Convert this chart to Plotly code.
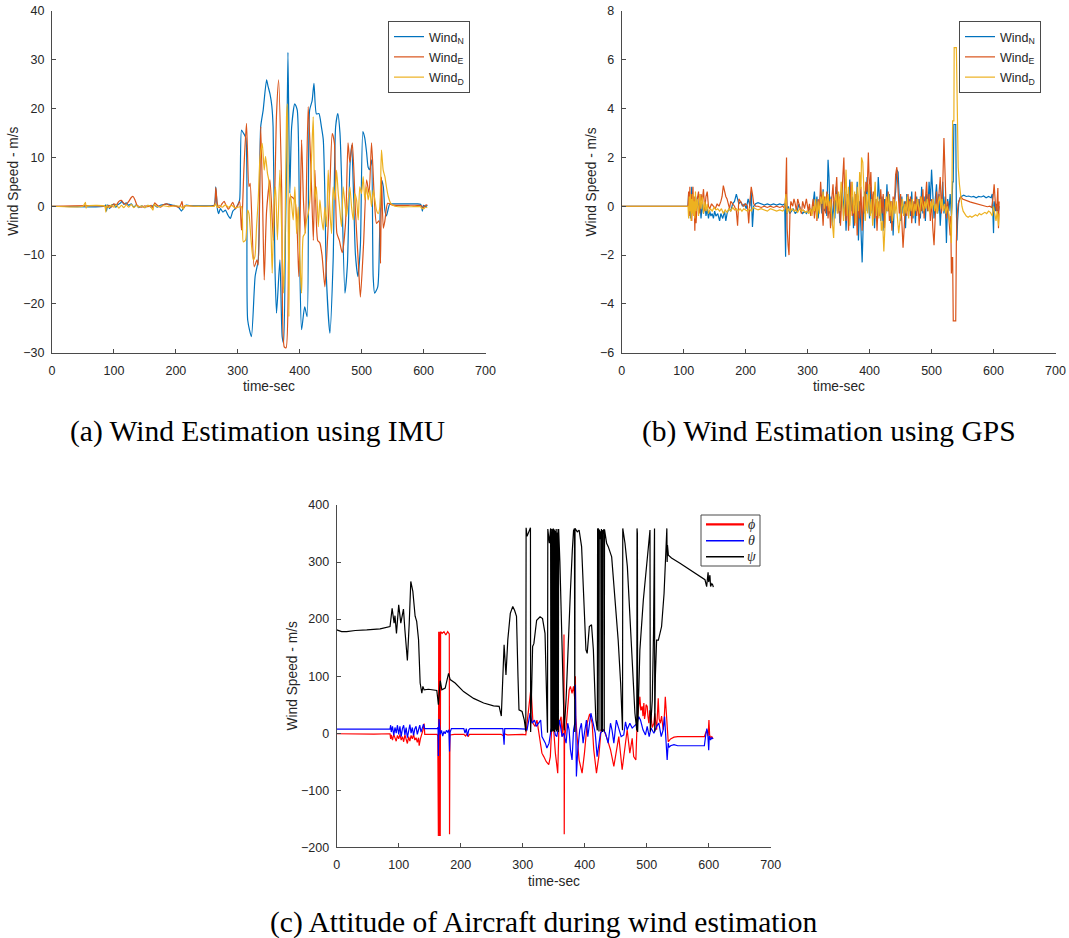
import plotly.graph_objects as go

# ---------------- (a) wind estimate from IMU : (time [s], speed [m/s]) ----------------
imu_north = [(0,0),(85,0),(87,0.3),(88,-1.0),(90,0.3),(93,-0.5),(96,0.2),(100,0.4),(103,-0.2),(106,0.3),
    (110,0.6),(113,1.0),(116,0.4),(120,0.7),(124,0.2),(128,0.5),(132,-0.2),(136,0.3),(140,-0.3),(145,0.1),
    (150,-0.3),(155,0.2),(160,-0.2),(165,0.3),(170,-0.2),(175,0.2),(180,0.3),(185,0.5),(190,0.4),(195,0.2),
    (200,0.1),(205,-0.3),(209,-1.0),(212,-0.4),(216,0.2),(225,0.1),(240,0.1),(255,0.1),(262,0.2),(264.5,4.0),
    (267,-0.5),(269,-1.5),(272,-0.5),(276,-1.2),(280,-0.8),(284,-1.8),(288,-2.5),(292,-1.0),(296,-0.5),(300,0.3),
    (303,1.3),(306,15.6),(309,15.0),(313,14.0),(316,-23.3),(322,-26.7),(328,-14.4),(333,-11),(337,16.3),(341,19.7),
    (346.5,25.9),(349,24.5),(352,23),(355,20.5),(357,16.3),(360,-12.4),(362.6,-21.9),(368,-11),(371.7,-26.7),(374,-28),
    (377,-5),(379,9.5),(381,31.5),(384,2.7),(387,16.3),(392,21),(396,19.7),(400,-11),(403,-25.3),(408,-20.6),
    (412,-22.6),(416,19.7),(420,21.6),(423,25.2),(427,18.9),(431,19),(435,16.3),(438,13.7),(440.6,2.6),(443,-14.4),
    (448.7,-26),(454,-11),(458,16.3),(461.5,19),(465,15),(467.5,6),(473,-17.8),(477,-12),(481,8),(484,12.5),
    (487,2),(490,-10),(494,-14.4),(498,-8),(502,15.3),(505,14),(508,11),(510.5,8),(513,7.5),(516,9.5),
    (518.6,-14.4),(521,-17.8),(526,-16.5),(529,-6.2),(532,5.4),(535,4),(537.5,-0.8),(540,-2),(545.5,0.5),(550,0.5),
    (560,0.5),(575,0.5),(590,0.5),(595,0.4),(597,-0.2),(598,-1.0),(600,0.2),(603,-0.1),(606,0.2)]

imu_east = [(0,0),(85,0),(88,-0.3),(92,0.2),(96,-0.2),(100,0.5),(104,0.3),(108,1.0),(112,1.2),(116,0.6),
    (120,0.4),(124,1.0),(128,1.8),(131,2.0),(134,1.3),(137,0.3),(140,0.0),(145,-0.2),(150,0.1),(155,-0.1),
    (160,0.2),(163,-0.3),(166,0.7),(170,0.2),(175,-0.2),(180,0.3),(185,0.5),(190,0.2),(195,0.1),(200,0.0),
    (205,-0.2),(208,0.3),(210,1.0),(212,-0.5),(215,0.1),(230,0.0),(250,0.0),(262,0.1),(264.5,3.8),(267,0.5),
    (270,-0.3),(274,0.4),(278,1.0),(281,0.2),(285,-0.6),(289,0.2),(292,0.8),(296,-0.5),(300,0.2),(303,1.0),
    (306,-4.9),(310,8),(314,17),(318,4),(320,4.7),(326.5,-12.4),(331,-11),(333,-12),(337,16.3),(340,1.3),
    (342.7,-15.1),(346.5,-1),(352,5.4),(357.5,-7),(362.6,19),(366,25.9),(371,2.7),(375,-28.8),(378,-29),(382,-11),
    (385,2),(392,1.3),(398.6,-14.4),(403,13.6),(406,1.3),(409,-5.5),(413.7,20.4),(418,8.1),(422,-7),(424.5,7.4),
    (429,-7),(432.5,-7.5),(436,-10),(440.6,-16.5),(443,-12),(448.7,4),(452.5,14.9),(456,13),(460,-5.5),(464,-7),
    (468.6,-9.5),(474,-3.5),(478,13),(481,9),(485,13),(490,-1),(495,-12.4),(498,-18.6),(503,-8),(508,5.4),
    (512,2.6),(516,13),(520.5,1.5),(524,-3.5),(528,-3),(530.5,-11.7),(532,6),(535,-4.5),(537.5,-3),(542,0.6),
    (549,0.3),(560,0.2),(575,0.2),(590,0.2),(597,0.1),(600,-0.3),(603,0.2),(606,0.3)]

imu_down = [(0,0),(50,0),(54,0.8),(55,-0.4),(56,0),(85,0),(87,-1.2),(88,0.2),(92,-0.3),(96,0.3),
    (100,-0.2),(104,0.3),(108,-0.4),(112,0.2),(116,-0.3),(120,0.3),(124,-0.2),(128,0.4),(132,-0.3),(136,0.2),
    (140,-0.2),(145,0.1),(150,-0.3),(155,0.2),(160,-0.2),(163,-0.8),(165,0.4),(170,-0.1),(180,0.1),(190,-0.1),
    (200,0.1),(210,-0.2),(212,-0.6),(214,0.1),(230,0),(250,0),(262,0),(264,0.5),(267,-0.3),(270,0.2),
    (275,-0.2),(280,0.3),(285,-0.2),(290,0.2),(295,-0.3),(300,-0.2),(306,-0.1),(308.8,-7.3),(312.6,-6.9),(315.8,-0.8),
    (318,-1.5),(321,-6.2),(325,-11),(327.6,-10.3),(330.3,-4.2),(333,1.3),(335.7,9.5),(339.5,12.9),(342.7,7.4),(344.8,10.2),
    (348,6.7),(350,5.4),(353.4,-4.2),(355.6,-13.7),(358.8,1.3),(361,4),(364,-6.9),(368,7.4),(370.7,-4.2),(374,-17.8),
    (376,-8.3),(378.7,18.3),(380,21),(382.5,-22.6),(384.6,2.6),(386.8,0.6),(389.5,-2.8),(392.2,4),(395,-5.6),(397.6,-0.1),
    (400.3,-11),(403,-17.8),(405.6,-6.2),(408.3,-5.6),(411,-2.8),(413.7,-1.5),(416.4,1.3),(419,9.5),(421.8,18.3),(424.5,1.3),
    (427,4),(430,-4.2),(432.6,1.3),(435,-2.1),(438,-4.9),(440.6,-0.1),(443.3,-4.2),(446,7.4),(448.7,-0.8),(451.4,-5.6),
    (454,4),(456.8,1.3),(459.5,7.4),(462.2,2.6),(464.8,-0.8),(467.5,-4.2),(470.2,4),(473,0.6),(475.6,-2.1),(478.3,1.3),
    (481,4),(483.7,-0.1),(486.4,-2.8),(489,2.6),(491.8,1.3),(494.5,-2.8),(497,4),(499.8,2.6),(502.5,6.1),(505.2,1.3),
    (508,4),(510.6,1.3),(513.3,3.3),(516,-0.1),(518.7,3.3),(521.4,1.3),(524,-0.8),(526.7,-1.5),(529.4,-0.1),(532,11.5),
    (534.8,7.4),(537.5,6.1),(540,4),(543,2),(547,0.6),(553.6,0),(560,-0.1),(580,-0.1),(595,-0.1),(597,-0.4),
    (600,-0.5),(603,-0.2),(606,-0.3)]

# ---------------- (b) wind estimate from GPS : (time [s], speed [m/s]) ----------------
gps_north = [(0,0),(106,0),(107,0),(108,0.5),(109,-0.3),(110,0.4),(111,-0.5),(112,0.2),(113,0.8),(114,-0.2),
    (115,0.3),(116,-0.4),(117,0.1),(118,-0.6),(119,0.2),(120,-0.3),(122,0.4),(124,-0.2),(126,0.3),(128,-0.5),
    (130,0.1),(132,-0.3),(134,0.2),(136,-0.4),(138,-0.1),(140,-0.5),(142,-0.2),(144,-0.4),(146,-0.3),(148,-0.5),
    (150,-0.2),(152,-0.4),(155,-0.3),(158,-0.6),(160,-0.3),(163,-0.5),(166,-0.2),(168,-0.6),(170,-0.3),(173,-0.1),
    (176,-0.2),(179,0.1),(182,0.2),(185,0.5),(187,0.3),(189,0.1),(192,0.2),(195,0.0),(198,0.1),(201,-0.1),
    (204,0.3),(207,0.0),(209,0.6),(211,-0.85),(213,0.0),(216,0.1),(220,0.15),(225,0.1),(230,0.05),(235,0.1),
    (240,0.05),(245,0.1),(250,0.05),(255,0.1),(260,0.05),(263,0.1),(264.5,-2.07),(265.5,0.6),(267,-0.3),(269,0.0),
    (271,-0.3),(274,-0.2),(277,-0.1),(280,-0.3),(283,-0.2),(286,0.1),(289,-0.2),(292,-0.3),(295,-0.2),(298,-0.3),
    (301,-0.2),(304,-0.1),(307,-0.3),(309,0.1),(311,0.6),(313,-0.2),(315,0.4),(317,-0.5),(319,0.2),(321,0.5),
    (323,-0.3),(325,0.7),(327,-0.2),(329,0.3),(331,-0.4),(333,1.9),(334.5,1.2),(336,-0.3),(338,0.4),(340,-0.8),
    (342,0.2),(344,-0.5),(346,0.8),(348,-0.2),(350,0.5),(352,-0.7),(354,0.3),(356,1.0),(358,-0.4),(360,0.6),
    (362,-1.0),(364,0.2),(366,-0.4),(368,1.1),(370,-0.2),(372,0.4),(374,-0.9),(376,0.5),(378,-0.3),(380,1.0),
    (382,-1.4),(384,0.2),(386,-0.9),(388,-2.3),(390,-0.5),(392,0.6),(394,-0.2),(396,1.2),(398,0.3),(400,-0.5),
    (402,0.8),(404,-0.3),(406,0.5),(408,-0.9),(410,0.3),(412,-0.4),(414,1.2),(416,0.2),(418,-0.6),(420,0.4),
    (422,-1.0),(424,0.3),(426,-0.3),(428,0.9),(430,-0.2),(432,0.5),(434,-0.7),(436,0.2),(438,-1.2),(440,0.1),
    (442,0.6),(444,1.5),(446,1.4),(448,0.3),(450,-0.6),(452,0.4),(454,-0.3),(456,0.2),(458,-0.9),(460,0.5),
    (462,-0.2),(464,0.3),(466,-0.4),(468,0.6),(470,-0.5),(472,0.2),(474,-0.7),(476,0.4),(478,-0.2),(480,0.3),
    (482,-0.5),(484,0.8),(486,-0.3),(488,0.4),(490,-0.6),(492,0.5),(494,-0.2),(496,1.0),(498,0.2),(500,1.5),
    (502,0.6),(504,-0.5),(506,0.3),(508,0.9),(510,-0.3),(512,0.5),(514,-0.8),(516,0.2),(518,1.0),(520,-0.3),
    (522,0.4),(524,-1.5),(526,0.3),(528,-0.2),(530,0.5),(532,-0.4),(533,0.0),(534,1.0),(535,1.0),(536,3.35),
    (539,3.35),(540,0.0),(541,-1.4),(542,-0.6),(544,0.2),(546,0.35),(548,0.4),(552,0.45),(556,0.4),(560,0.42),
    (564,0.38),(568,0.4),(572,0.35),(576,0.4),(580,0.38),(584,0.42),(588,0.35),(592,0.4),(596,0.35),(598,0.5),
    (600,-1.1),(601,0.2),(603,-0.2),(605,0.1),(607,-0.4),(609,0.0)]

gps_east = [(0,0),(106,0),(107,0),(108,0.6),(109,-0.4),(110,0.8),(111,-0.2),(112,0.5),(113,-0.6),(114,0.3),
    (115,0.8),(116,-0.3),(117,0.4),(118,-1.0),(119,0.2),(120,-0.7),(122,0.3),(124,0.6),(126,-0.3),(128,0.5),
    (130,0.2),(132,0.7),(134,-0.2),(136,0.4),(138,0.6),(140,0.0),(142,-0.1),(145,0.1),(148,0.0),(151,-0.1),
    (154,0.1),(157,0.0),(160,0.2),(162,0.4),(164,0.85),(166,0.6),(168,0.4),(170,0.3),(172,0.1),(174,-0.1),
    (176,0.2),(179,0.1),(182,0.0),(185,-0.2),(187,-0.8),(189,0.3),(191,0.2),(194,0.1),(197,0.0),(200,0.1),
    (203,0.0),(205,-0.7),(207,0.2),(209,0.8),(211,0.5),(213,0.1),(216,0.0),(220,0.0),(225,-0.05),(230,0.0),
    (235,-0.05),(240,0.0),(245,-0.05),(250,0.0),(255,-0.05),(260,0.0),(263,-0.1),(264.5,0.4),(266,2.0),(267,-0.9),
    (268.5,-1.6),(270,-2.0),(271.5,-0.3),(273,0.2),(276,0.0),(278,0.3),(280,0.1),(282,-0.2),(284,0.3),(287,0.0),
    (290,-0.3),(292,0.2),(295,-0.1),(298,0.3),(301,-0.2),(303,0.1),(305,-0.4),(307,-0.1),(309,0.3),(311,-0.5),
    (313,0.2),(315,-0.6),(317,0.3),(319,-0.2),(321,1.0),(323,0.1),(325,-0.8),(327,0.4),(329,-0.3),(331,0.6),
    (333,-0.5),(335,0.2),(337,-0.9),(339,0.3),(341,0.9),(343,-0.2),(345,0.5),(347,1.2),(349,-0.3),(351,0.4),
    (353,-0.8),(355,0.6),(357,1.3),(358.5,2.0),(360,0.2),(362,-0.6),(364,0.5),(366,-1.0),(368,0.3),(370,1.0),
    (372,-0.4),(374,0.2),(376,-0.8),(378,0.5),(380,-1.2),(382,0.3),(384,-0.5),(386,0.8),(388,-1.0),(390,0.4),
    (392,-0.3),(394,1.0),(396,0.6),(398,2.2),(400,0.5),(402,1.4),(404,-0.2),(406,0.6),(408,-0.5),(410,0.3),
    (412,-1.0),(414,0.2),(416,-0.4),(418,0.7),(420,-0.3),(422,0.5),(424,-0.9),(426,0.3),(428,-0.2),(430,0.6),
    (432,-0.6),(434,0.2),(436,-1.0),(438,0.4),(440,0.0),(442,1.3),(444,1.6),(446,0.4),(448,-0.3),(450,0.5),
    (452,-0.9),(454,-1.7),(456,-0.8),(458,0.2),(460,-0.4),(462,0.5),(464,-0.2),(466,0.4),(468,-0.7),(470,0.2),
    (472,-0.3),(474,0.6),(476,-0.4),(478,0.3),(480,-0.8),(482,0.4),(484,-0.2),(486,0.7),(488,-0.5),(490,0.3),
    (492,1.0),(494,-0.2),(496,0.5),(498,-0.6),(500,0.3),(502,-0.9),(504,-1.6),(506,-0.4),(508,0.6),(510,-0.2),
    (512,0.4),(514,1.2),(516,-0.3),(518,0.8),(520,2.8),(522,0.6),(524,-0.5),(526,0.2),(528,-0.8),(530,-1.2),
    (531,-0.4),(532,-2.75),(533,-2.1),(534,-2.1),(535,-4.7),(539,-4.7),(540,-1.5),(541,-0.5),(543,0.1),(545,0.3),
    (547,0.4),(550,0.3),(554,0.25),(558,0.2),(562,0.18),(566,0.15),(570,0.12),(574,0.1),(578,0.05),(582,0.03),
    (586,0.0),(590,-0.02),(594,0.0),(597,-0.05),(599,0.3),(601,0.9),(603,0.1),(605,-0.2),(607,0.75),(608,-0.9),
    (609,0.2)]

gps_down = [(0,0),(106,0),(107,0),(108,-0.5),(109,0.4),(110,-0.2),(111,0.5),(112,-0.6),(113,0.3),(114,-0.3),
    (115,0.5),(116,-0.4),(117,0.2),(118,-0.5),(119,0.6),(120,-0.2),(122,0.3),(124,-0.4),(126,0.5),(128,-0.1),
    (130,0.4),(132,-0.3),(134,0.2),(136,-0.2),(138,0.1),(140,-0.3),(143,-0.1),(146,-0.2),(149,-0.05),(152,-0.15),
    (155,-0.1),(158,-0.2),(161,-0.1),(164,-0.3),(167,-0.15),(170,-0.25),(173,-0.1),(176,-0.2),(179,-0.05),(182,-0.15),
    (185,-0.1),(188,-0.2),(191,-0.1),(194,-0.2),(197,-0.1),(200,-0.15),(203,-0.2),(206,-0.1),(209,-0.2),(212,-0.05),
    (215,-0.1),(220,-0.15),(225,-0.1),(230,-0.15),(235,-0.2),(240,-0.1),(245,-0.15),(250,-0.2),(255,-0.15),(260,-0.2),
    (263,-0.1),(265,0.5),(267,-0.3),(269,-0.1),(272,-0.2),(275,-0.1),(278,-0.2),(281,-0.15),(284,-0.25),(287,-0.1),
    (290,-0.2),(293,-0.15),(296,-0.25),(299,-0.2),(302,-0.3),(305,-0.1),(307,-0.4),(309,0.0),(311,-0.2),(313,0.3),
    (315,-0.5),(317,0.2),(319,-0.3),(321,0.4),(323,0.1),(325,0.6),(327,-0.1),(329,0.4),(331,0.0),(333,0.5),
    (335,-0.2),(337,0.3),(339,-0.4),(341,-1.0),(342,-1.3),(344,0.2),(346,0.5),(348,-0.3),(350,0.6),(352,-0.2),
    (354,1.0),(356,0.4),(358,-0.6),(360,0.3),(362,1.5),(364,-0.4),(366,0.8),(368,-0.8),(370,0.4),(372,1.0),
    (374,-0.3),(376,0.6),(378,-0.7),(380,0.8),(382,-0.2),(384,1.4),(386,0.7),(387,2.0),(389,1.8),(391,0.2),
    (393,-0.6),(395,0.5),(397,-0.3),(399,0.9),(401,-0.4),(403,0.3),(405,-0.8),(407,0.2),(409,1.0),(411,-0.4),
    (413,0.4),(415,-0.5),(417,0.3),(419,-1.0),(421,-0.6),(423,-1.85),(425,-0.3),(427,0.4),(429,-0.2),(431,0.5),
    (433,-0.4),(435,0.2),(437,-0.6),(439,0.3),(441,-0.3),(443,0.2),(445,-0.5),(447,-1.1),(449,-0.6),(451,-0.2),
    (453,0.3),(455,-0.4),(457,0.1),(459,-0.3),(461,0.4),(463,-0.5),(465,0.2),(467,-0.2),(469,0.3),(471,-0.4),
    (473,0.1),(475,-0.2),(477,0.3),(479,0.0),(481,-0.3),(483,0.4),(485,0.1),(487,-0.2),(489,0.2),(491,-0.1),
    (493,0.3),(495,0.0),(497,-0.3),(499,0.2),(501,-0.1),(503,0.3),(505,-0.2),(507,0.1),(509,-0.3),(511,0.2),
    (513,0.4),(515,-0.1),(517,0.3),(519,-0.2),(521,0.1),(523,-0.3),(525,0.0),(527,-0.2),(529,-0.5),(531,-0.9),
    (532,-1.5),(533,0.3),(534,3.5),(536,3.5),(536.5,6.5),(540,6.5),(541,4.0),(542,2.5),(543,1.6),(545,0.9),
    (547,0.4),(549,0.0),(551,-0.2),(553,-0.3),(556,-0.4),(559,-0.45),(562,-0.4),(565,-0.45),(568,-0.4),(571,-0.35),
    (574,-0.4),(577,-0.3),(580,-0.35),(583,-0.3),(586,-0.25),(589,-0.3),(592,-0.2),(595,-0.25),(598,-0.4),(600,0.0),
    (602,-0.3),(604,-0.6),(606,-0.2),(608,-0.8),(609,-0.3)]

# ---------------- (c) attitude angles : (time [s], angle [deg]) ----------------
att_phi = [(0,-1),(20,-1.5),(40,-1),(60,-1.5),(86,-1),(87,-10),(88,-3),(90,-12),(92,-2),(94,-8),
    (96,-14),(98,-4),(100,-10),(102,-2),(104,-12),(106,-6),(108,-15),(110,-3),(112,-10),(114,-18),
    (116,-6),(118,-14),(120,-4),(122,-10),(124,-2),(126,-12),(128,-8),(130,-16),(132,-8),(133,-22),
    (135,-10),(137,-4),(139,5),(141,17),(142,-2),(150,-2),(162,-2),(163,-5),(164,-180),(164.5,178),
    (165,-180),(165.5,178),(166,-180),(166.5,178),(167,-180),(167.6,178),(170,175),(173,178),(176,172),(179,178),
    (181.6,174),(182,-177),(182.6,-3),(190,-2),(205,-2),(208,-5),(210,-1),(212,-6),(214,-2),(230,-2),
    (250,-2),(265,-2),(268,-4),(270,-1),(275,-3),(290,-2),(300,-2),(305,-3),(307,17.5),(310,40),
    (313.4,80),(316.6,17.5),(320,12),(323,23),(328.5,-12),(331,-35),(334,-41),(338,-50),(342,-55),(344.6,-41),
    (347,17.5),(350,6),(352.7,-35),(356.5,-70),(358.6,17.5),(362,29),(363.5,-6),(366,30),(366.6,173),(367,-177),
    (367.5,-10),(370.5,17.5),(372.6,52),(375,76),(377,82),(379.6,70),(382,82),(384,60),(385,100),(385.5,29),
    (387.7,-6),(391,-47),(395.8,-70),(399.6,-35),(404,17.5),(408,34),(412,17.5),(414.6,-29),(419,-70),(422.7,-41),
    (426.5,6),(430.8,6),(436,-9),(441.6,-29),(447,-58),(451,-35),(455,-6),(460.4,-64),(464,-29),(468.5,6),
    (472.8,-35),(476.6,-9),(479,-41),(482.5,-47),(484.7,23),(487,45),(489,64),(490.5,40),(492.7,47),(494,30),
    (495.4,53),(496.5,25),(498,35),(499,50),(500.8,47),(502,30),(503.5,17.5),(505,40),(507,29),(509,10),
    (511.6,17.5),(513,35),(516,6),(518.6,61),(520,25),(522,17.5),(524,30),(526.6,6),(528,20),(530,64),
    (531.5,40),(533,17.5),(534.7,-15),(538.5,-10),(544,-7),(550,-6),(560,-6),(575,-6),(593,-6),(595,0),
    (597,5),(599,-5),(600.4,23),(601.5,-3),(603,-8),(605,-6),(607,-10)]

att_theta = [(0,7),(40,7),(86,7),(87,14),(88,2),(90,12),(92,-4),(94,10),(96,0),(98,14),
    (100,-2),(102,12),(104,-6),(106,8),(108,14),(110,-3),(112,10),(114,-8),(116,5),(118,15),
    (120,0),(122,10),(124,-4),(126,8),(128,12),(130,-2),(132,6),(134,14),(136,2),(138,12),
    (140,16),(142,8),(150,8),(162,8),(163.5,10),(164,-40),(165,25),(166,0),(167,-2),(169,5),
    (171,-5),(173,3),(175,-1),(177,5),(179,2),(181,6),(182,-32),(183,2),(185,8),(190,8),
    (205,8),(207,0),(209,8),(211,-5),(213,6),(215,8),(230,8),(250,8),(268,8),(270,-20),
    (271,8),(290,8),(300,8),(305,7),(307,6),(312,35),(315,17.5),(319,23),(322,12),(325.8,17.5),
    (329,23),(331,-6),(336.6,-17.5),(339,-26),(342.5,-17.5),(345.7,6),(349,17.5),(352.7,-3),(355,-6),(359.5,23),
    (363.5,-6),(366,0),(370,-17.5),(372.6,17.5),(374.8,6),(377,-29),(379.6,-47),(382,6),(384.5,20),(385,85),
    (385.5,20),(386.6,-76),(388.8,-29),(392,6),(394.7,17.5),(397.4,-17.5),(399.6,0),(402.8,23),(405,-6),(408,17.5),
    (410,35),(413.6,17.5),(417,0),(420,-41),(422.7,-23),(425.4,0),(429.7,6),(433.5,0),(437.8,-17.5),(441.6,17.5),
    (444,6),(447,-17.5),(451,23),(455,6),(458.8,-6),(463,-3),(465.8,20),(468.5,6),(472.8,17.5),(476.6,9),
    (480,12),(484.7,17.5),(487,29),(490,23),(494,6),(498,-3),(500.8,12),(504,-6),(507,9),(511.6,0),
    (516,12),(519.6,17.5),(523.4,-6),(526.6,6),(528.8,29),(531,-6),(533,-47),(534.7,-17.5),(536,-25),(538.5,-22),
    (544,-20),(550,-22),(560,-22),(575,-22),(593,-22),(595,-5),(597,8),(598.5,0),(600,-30),(601,-5),
    (603,-12),(605,-8),(607,-10)]

att_psi = [(0,181),(8,178),(16,178),(30,180),(48.5,181),(70,183),(86,187),(89.4,219),(92.6,193),(94,206),
    (96.4,175),(98,202),(100,225),(103.4,193),(107.7,217.5),(110,181),(114,127.5),(117,193),(119.5,266),(122.8,248.5),
    (125,219),(126.5,205),(129,196),(132,164),(134.6,88),(137.3,70),(139,82),(141,76),(148,77),(156,76),
    (161.5,75),(164,50),(167,92),(169.6,76),(175,79),(180.4,105),(183,94),(191,88),(204.6,73),(220.8,61),
    (237,53),(253,48),(262,47),(265.5,30),(267.6,76),(270,155),(273,102),(276,164),(280,210),(284,222),
    (287,215),(290,205),(292.4,99),(294,41),(299,38),(302.6,23),(305,3),(305.5,360),(307,345),(309,350),
    (311.5,358),(312.5,360),(312.8,2),(316,152),(318,157),(322.5,198),(328,204),(332,201),(336,175),(339.7,5),
    (340,1),(340.5,358),(343,333),(345,359),(345.5,2),(346.5,5),(347,358),(348,356),(348.5,3),(349.5,359),
    (350,4),(351,357),(351.5,2),(352.5,355),(353,6),(354,358),(354.5,3),(355.5,352),(356,5),(357,358),
    (357.5,2),(358,358),(360,300),(362,200),(364,120),(367,5),(370,60),(373,150),(377,250),(380,320),
    (382,355),(383.5,359),(384,2),(384.4,359),(388,353),(391,356),(395,327),(399,234),(402,146),(404,140),
    (407.5,187),(411,190),(414,146),(418,23),(420.4,5),(420.8,358),(422,359),(423,3),(423.5,357),(425,340),
    (426,355),(426.5,4),(427,358),(428.5,2),(429,356),(430,350),(431,358),(431.5,3),(432,357),(435.4,333),
    (438,327),(443.5,309),(449,234),(454,163),(458,87),(461,5),(461.4,359),(465,333),(468.8,292),(473,204),
    (477.4,117),(481,35),(484,5),(484.4,359),(485,350),(485.4,2),(489,146),(494.6,234),(500,292),(505.3,356),
    (505.8,3),(509,58),(511,175),(512.6,359),(513,3),(514,100),(516,163),(518.8,163),(521.4,175),(524,187),
    (528,245),(531,321),(532.5,359),(533,300),(533.5,330),(534,305),(534.5,318),(535,312),(540,307),(553.7,298),
    (570,286),(586,274),(594,269),(596.7,257),(598,270),(599,282),(600,265),(602,277),(603,257),(605,262),
    (606.4,260),(607.5,256)]

# ---------------- axes, labels and captions ----------------
time_ticks = [0, 100, 200, 300, 400, 500, 600, 700]
imu_ticks = [-30, -20, -10, 0, 10, 20, 30, 40]
gps_ticks = [-6, -4, -2, 0, 2, 4, 6, 8]
att_ticks = [-200, -100, 0, 100, 200, 300, 400]

wind_names = ["Wind<sub>N</sub>", "Wind<sub>E</sub>", "Wind<sub>D</sub>"]
att_names = ["<i>ϕ</i>", "<i>θ</i>", "<i>ψ</i>"]
x_title = "time-sec"
y_title = "Wind Speed - m/s"
captions = ["(a) Wind Estimation using IMU", "(b) Wind Estimation using GPS",
            "(c) Attitude of Aircraft during wind estimation"]

WIND_COLORS = ["#0072BD", "#D95319", "#EDB120"]
ATT_COLORS = ["#FF0000", "#0000FF", "#000000"]
AX = "#4a4a4a"
TXT = "#262626"
SANS = "Liberation Sans, Arial, sans-serif"
SERIF = "Liberation Serif, Times New Roman, serif"

W, H = 1069, 938


def px_x(p):
    return p / W


def px_y(p):
    return 1 - p / H


def unzip(pairs):
    return [p[0] for p in pairs], [p[1] for p in pairs]


fig = go.Figure()

# (x axis, y axis, legend id, series, names, colours, line shape, in built-in legend)
panels = [
    ("x", "y", "legend", [imu_north, imu_east, imu_down], wind_names, WIND_COLORS, "spline", True),
    ("x2", "y2", "legend2", [gps_north, gps_east, gps_down], wind_names, WIND_COLORS, "linear", True),
    ("x3", "y3", "legend", [att_phi, att_theta, att_psi], att_names, ATT_COLORS, "linear", False),
]
for xa, ya, lg, series, names, colors, shape, show in panels:
    for i, (s, name, col) in enumerate(zip(series, names, colors)):
        tx, vy = unzip(s)
        line = dict(color=col, width=1.2, shape=shape)
        if shape == "spline":
            line["smoothing"] = 0.6
        fig.add_trace(go.Scatter(x=tx, y=vy, mode="lines", name=name, xaxis=xa, yaxis=ya,
                                 legend=lg, legendgroup=f"{xa}-{i}", showlegend=show, line=line))


def axis_style(domain, rng, ticks, anchor, standoff):
    return dict(domain=domain, range=rng, tickvals=ticks, ticks="inside", ticklen=4,
                tickwidth=1, tickcolor=AX, showline=True, linecolor=AX, linewidth=1,
                showgrid=False, zeroline=False, anchor=anchor, ticklabelstandoff=standoff,
                automargin=False, tickfont=dict(family=SANS, size=12.5, color=TXT))


# plot-area boxes in pixels: (left, right, top, bottom)
box_a = (52, 485.5, 11, 352.7)
box_b = (621.7, 1055.5, 11, 352.7)
box_c = (336.7, 770.7, 505, 847.3)


def dom(box):
    l, r, t, b = box
    return [px_x(l), px_x(r)], [px_y(b), px_y(t)]


xa_d, ya_d = dom(box_a)
xb_d, yb_d = dom(box_b)
xc_d, yc_d = dom(box_c)

fig.update_layout(
    xaxis=axis_style(xa_d, [0, 700], time_ticks, "y", 6),
    yaxis=axis_style(ya_d, [-30, 40], imu_ticks, "x", 4),
    xaxis2=axis_style(xb_d, [0, 700], time_ticks, "y2", 6),
    yaxis2=axis_style(yb_d, [-6, 8], gps_ticks, "x2", 4),
    xaxis3=axis_style(xc_d, [0, 700], time_ticks, "y3", 6),
    yaxis3=axis_style(yc_d, [-200, 400], att_ticks, "x3", 4),
)


def legend_style(left, top, family, size, gap):
    return dict(x=px_x(left), y=px_y(top), xanchor="left", yanchor="top",
                bgcolor="white", bordercolor=AX, borderwidth=1,
                font=dict(family=family, size=size, color=TXT), itemwidth=30,
                tracegroupgap=gap)


fig.update_layout(
    showlegend=True,
    legend=legend_style(388, 21, SANS, 12.5, 1),
    legend2=legend_style(959, 21, SANS, 12.5, 1),
)

annotations = []
shapes = []

# compact key for the attitude panel: box, line samples and symbols
key_left, key_right, key_top, key_bottom = 701, 760, 515, 566
shapes.append(dict(type="rect", xref="paper", yref="paper", layer="above",
                   x0=px_x(key_left), x1=px_x(key_right), y0=px_y(key_bottom), y1=px_y(key_top),
                   fillcolor="white", line=dict(color=AX, width=1)))
key_rows = [524.3, 540.7, 556.7]
key_widths = [2.2, 1.5, 1.5]
for name, col, row, lw in zip(att_names, ATT_COLORS, key_rows, key_widths):
    shapes.append(dict(type="line", xref="paper", yref="paper", layer="above",
                       x0=px_x(706), x1=px_x(744), y0=px_y(row), y1=px_y(row),
                       line=dict(color=col, width=lw)))
    annotations.append(dict(text=name, x=px_x(751), y=px_y(row), xref="paper", yref="paper",
                            showarrow=False, xanchor="center", yanchor="middle",
                            font=dict(family=SERIF, size=14, color=TXT)))

for box, ytitle_x in [(box_a, 14), (box_b, 591.7), (box_c, 292.3)]:
    l, r, t, b = box
    annotations.append(dict(text=x_title, x=px_x((l + r) / 2), y=px_y(b + 34), xref="paper",
                            yref="paper", showarrow=False, xanchor="center", yanchor="middle",
                            font=dict(family=SANS, size=13.75, color=TXT)))
    annotations.append(dict(text=y_title, x=px_x(ytitle_x), y=px_y((t + b) / 2), xref="paper",
                            yref="paper", showarrow=False, xanchor="center", yanchor="middle",
                            textangle=-90, font=dict(family=SANS, size=13.75, color=TXT)))

for cap, cx, cy in zip(captions, [257, 829, 544], [431, 431, 922]):
    annotations.append(dict(text=cap, x=px_x(cx), y=px_y(cy), xref="paper", yref="paper",
                            showarrow=False, xanchor="center", yanchor="middle",
                            font=dict(family=SERIF, size=29.5, color="#000000")))

fig.update_layout(
    width=W, height=H, margin=dict(l=0, r=0, t=0, b=0),
    paper_bgcolor="white", plot_bgcolor="white",
    annotations=annotations, shapes=shapes,
)

fig.write_html("out.html")
